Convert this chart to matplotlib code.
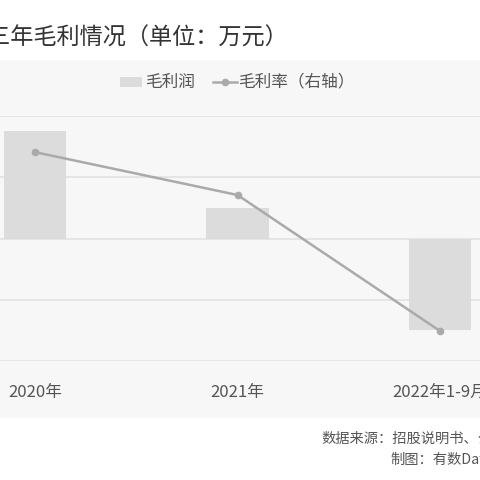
import matplotlib
matplotlib.use("Agg")
import matplotlib.pyplot as plt
from matplotlib.patches import Rectangle
from matplotlib.lines import Line2D

plt.rcParams['font.family'] = ['Noto Sans CJK SC', 'DejaVu Sans']

categories = ["2020年", "2021年", "2022年1-9月"]
gross_profit = [3520, 1000, -3000]      # 万元 (estimated)
gross_margin = [14.1, 7.1, -15.1]       # % (estimated)

W = H = 480
fig = plt.figure(figsize=(4.8, 4.8), dpi=100)
fig.patch.set_facecolor("white")

def fx(px): return px / W
def fy(py): return 1 - py / H

# grey panel (background axes)
bg = fig.add_axes([0, fy(418), 1, fy(60) - fy(418)], zorder=-5)
bg.set_facecolor("#f7f7f7")
bg.set_xticks([]); bg.set_yticks([])
for s in bg.spines.values():
    s.set_visible(False)

ax = fig.add_axes([0, fy(361), 1, fy(116) - fy(361)], zorder=1)
ax.set_facecolor("none")
x = list(range(len(categories)))
ax.bar(x, gross_profit, width=0.31, color="#dcdcdc", zorder=2)
ax.set_xlim(-35 / 202.5, -35 / 202.5 + 480 / 202.5)
ax.set_ylim(-4000, 4000)
ax.set_yticks([-4000, -2000, 0, 2000, 4000])
ax.grid(axis="y", color="#e2e2e2", linewidth=1.2, zorder=1)
ax.set_axisbelow(True)
ax.tick_params(axis="y", length=0, labelleft=False)
ax.set_xticks(x)
ax.set_xticklabels(categories, fontsize=12, color="#555555")
ax.tick_params(axis="x", length=0, pad=16.5)
for s in ax.spines.values():
    s.set_visible(False)

ax2 = ax.twinx()
ax2.plot(x, gross_margin, color="#aaaaaa", linewidth=1.8, marker="o", markersize=4.5, zorder=3)
ax2.set_ylim(-20, 20)
ax2.set_yticks([])
for s in ax2.spines.values():
    s.set_visible(False)

# title
fig.text(fx(-36), fy(38), "近三年毛利情况（单位：万元）", fontsize=16.7, color="#333333",
         ha="left", va="center")

# legend
fig.patches.append(Rectangle((fx(120), fy(87)), fx(22), fy(77) - fy(87), transform=fig.transFigure,
                             facecolor="#dcdcdc", edgecolor="none"))
fig.text(fx(145), fy(82), "毛利润", fontsize=12, color="#555555", ha="left", va="center")
fig.lines.append(Line2D([fx(213), fx(237)], [fy(82), fy(82)], transform=fig.transFigure,
                        color="#aaaaaa", linewidth=1.8))
fig.lines.append(Line2D([fx(225)], [fy(82)], transform=fig.transFigure,
                        color="#aaaaaa", marker="o", markersize=4.5, linestyle="none"))
fig.text(fx(238), fy(82), "毛利率（右轴）", fontsize=12, color="#555555", ha="left", va="center")

# footer
fig.text(fx(321), fy(439), "数据来源：招股说明书、公司公告", fontsize=10.3, color="#555555",
         ha="left", va="center")
fig.text(fx(390), fy(460), "制图：有数DataPro", fontsize=10.3, color="#555555",
         ha="left", va="center")

fig.savefig("out.png", dpi=100, facecolor="white")
